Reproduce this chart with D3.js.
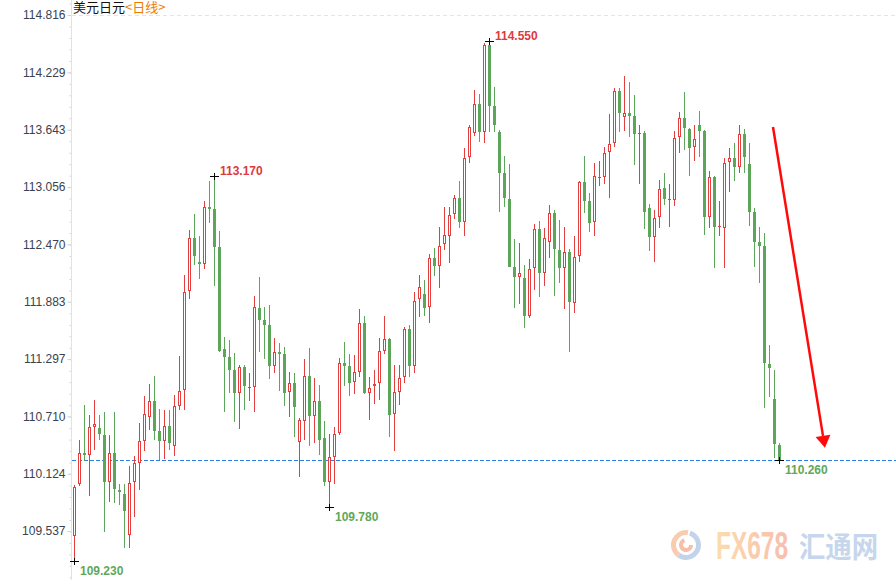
<!DOCTYPE html>
<html>
<head>
<meta charset="utf-8">
<script src="https://cdn.jsdelivr.net/npm/d3@7"></script>
<style>
  html, body { margin: 0; padding: 0; background: #fff; }
  svg { display: block; }
</style>
</head>
<body>
<svg id="chart" width="896" height="580"></svg>
<script>
// ---------- data (USD/JPY daily candles) ----------
const open = [
109.49,110.02,110.34,110.31,110.60,110.59,110.52,110.04,110.33,109.96,
109.92,109.50,110.04,110.23,110.46,110.70,110.87,110.56,110.46,110.61,
110.41,110.82,110.98,111.99,112.53,112.29,112.27,112.85,112.83,112.44,
111.40,111.32,111.18,110.95,111.21,111.00,111.01,111.82,111.70,111.64,
111.23,111.37,111.35,110.96,111.05,110.45,110.66,111.12,110.71,110.87,
110.49,110.04,110.29,110.54,111.26,111.22,111.06,111.16,111.66,110.95,
111.02,111.05,111.38,111.50,110.73,110.96,111.11,111.60,111.23,111.91,
111.96,111.83,112.33,112.25,112.47,112.55,112.78,112.94,112.70,113.36,
113.61,113.91,113.62,114.51,113.88,113.62,113.20,112.93,112.24,112.14,
112.13,111.74,112.23,112.63,112.18,112.49,112.79,112.41,112.23,112.39,
111.87,112.35,113.11,112.91,112.70,113.15,113.16,113.41,113.51,114.04,
113.77,113.81,113.78,113.60,113.61,112.84,112.54,112.75,113.05,112.92,
112.92,113.57,113.76,113.65,113.47,113.69,113.63,112.75,113.16,112.65,
112.64,113.31,113.35,113.26,113.60,113.29,112.80,112.49,112.45,111.25,
110.89,110.42];
const high = [
110.01,110.47,110.83,110.72,110.88,110.72,110.75,110.52,110.75,110.02,
110.02,110.20,110.30,110.64,110.92,111.04,111.12,110.79,110.78,110.78,
110.93,111.33,112.16,112.62,112.78,112.55,112.91,113.12,113.17,112.61,
111.52,111.49,111.36,111.24,111.24,111.15,111.94,112.14,111.83,111.85,
111.51,111.46,111.42,111.16,111.15,110.69,111.30,111.41,111.10,111.03,
110.66,110.53,110.60,111.31,111.47,111.35,111.34,111.81,111.74,111.11,
111.18,111.51,111.74,111.51,111.24,111.24,111.62,111.64,111.98,112.16,
112.11,112.37,112.43,112.65,112.85,112.85,112.97,113.12,113.46,113.69,
114.05,114.01,114.53,114.55,114.08,113.64,113.37,113.29,112.52,112.48,
112.26,112.32,112.68,112.71,112.64,112.87,112.82,112.72,112.65,112.42,
112.55,113.12,113.37,112.99,113.30,113.32,113.47,113.80,114.07,114.07,
114.19,114.13,114.00,113.69,113.63,112.88,112.82,113.13,113.20,113.09,
113.63,113.82,114.03,113.66,113.69,113.83,113.64,113.22,113.17,112.91,
113.35,113.46,113.51,113.69,113.65,113.51,112.84,112.65,112.59,111.44,
111.18,110.44];
const low = [
109.23,110.00,110.25,109.90,110.37,110.47,109.53,109.83,109.82,109.80,
109.36,109.36,109.68,109.96,110.36,110.57,110.47,110.26,110.27,110.37,
110.30,110.78,110.77,111.91,112.26,112.12,112.22,112.69,112.04,111.37,
110.75,110.95,110.65,110.58,110.78,110.87,110.75,111.37,111.30,111.09,
111.15,110.97,110.82,110.70,110.50,110.09,110.47,110.41,110.44,110.31,
110.00,109.78,110.02,110.52,111.02,110.92,110.94,111.11,110.94,110.67,
110.84,110.88,111.35,110.50,110.36,110.83,111.05,111.11,111.15,111.73,
111.74,111.67,112.15,112.02,112.41,112.28,112.73,112.64,112.55,113.30,
113.58,113.52,113.51,113.62,113.62,112.80,112.85,112.24,111.82,111.86,
111.61,111.72,112.00,111.93,112.04,112.33,111.94,112.07,111.81,111.37,
111.77,112.29,112.79,112.60,112.55,113.07,113.09,112.94,113.47,113.62,
113.63,113.57,113.28,113.09,112.63,112.40,112.29,112.64,112.87,112.65,
112.86,113.40,113.43,113.17,113.32,113.36,112.57,112.64,112.23,112.55,
112.23,113.01,113.12,113.20,113.20,112.66,112.24,112.07,110.80,110.91,
110.28,110.26];
const close = [
109.99,110.34,110.31,110.60,110.63,110.53,110.04,110.33,109.97,109.94,
109.74,110.03,110.23,110.46,110.73,110.87,110.56,110.46,110.61,110.44,
110.82,110.97,111.98,112.53,112.35,112.27,112.85,112.83,112.44,111.38,
111.32,111.18,110.95,111.21,111.02,111.01,111.83,111.70,111.64,111.23,
111.37,111.35,110.95,111.05,110.81,110.67,111.12,110.71,110.87,110.47,
110.04,110.29,110.53,111.26,111.22,111.05,111.16,111.66,110.95,111.00,
111.04,111.38,111.50,110.72,110.96,111.10,111.60,111.23,111.89,112.03,
111.82,112.33,112.25,112.45,112.57,112.77,112.94,112.70,113.35,113.67,
113.91,113.62,114.51,113.89,113.69,113.20,112.94,112.24,112.14,112.18,
111.74,112.22,112.63,112.18,112.53,112.79,112.42,112.23,112.39,111.88,
112.34,113.11,112.91,112.69,113.17,113.16,113.40,113.50,114.04,113.81,
113.81,113.78,113.60,113.61,112.80,112.54,112.74,113.04,112.93,112.93,
113.56,113.76,113.66,113.46,113.55,113.63,112.75,113.16,112.65,112.66,
113.30,113.35,113.26,113.60,113.36,112.80,112.49,112.45,111.26,111.20,
110.43,110.26];
const days = open.map((_, i) => i);

const tickLabels = ["114.816","114.229","113.643","113.056","112.470","111.883","111.297","110.710","110.124","109.537"];
const highMarks = [{ i: 28, label: "113.170" }, { i: 83, label: "114.550" }];
const lowMarks  = [{ i: 0, label: "109.230" }, { i: 51, label: "109.780" }, { i: 141, label: "110.260" }];
const lastPrice = 110.26;
const titleMain = "美元日元";
const titleSub = "<日线>";

// ---------- layout ----------
const W = 896, H = 580;
const RED = "#e2403f", GREEN = "#5ca65a";
const svg = d3.select("#chart");

const tickValues = tickLabels.map(Number);
const y = d3.scaleLinear().domain([109.537, 114.816]).range([531, 15]);
const x = d3.scaleLinear().domain([0, days.length - 1]).range([74, 779]);

// top faint dashed line
svg.append("line")
  .attr("x1", 72).attr("x2", W).attr("y1", 15.5).attr("y2", 15.5)
  .attr("stroke", "#e4e4e4").attr("stroke-dasharray", "4,3");

// ---------- y axis ----------
const step = tickValues[0] - tickValues[1];
const minor = [];
for (let v = tickValues[0] + step; v > y.domain()[0] - 1.2 * step; v -= step / 5) {
  const yy = y(v);
  if (yy >= 0 && yy <= H) minor.push(v);
}
const gMinor = svg.append("g").attr("transform", "translate(71.5,0)")
  .call(d3.axisLeft(y).tickValues(minor).tickSize(2).tickFormat(""));
gMinor.select(".domain").remove();
gMinor.selectAll("line").attr("stroke", "#c9d4e2");

const gAxis = svg.append("g").attr("transform", "translate(71.5,0)")
  .call(d3.axisLeft(y).tickValues(tickValues).tickSize(4).tickPadding(2)
    .tickFormat((d, i) => tickLabels[i]));
gAxis.select(".domain").remove();
gAxis.selectAll("line").attr("stroke", "#c9d4e2");
gAxis.selectAll("text")
  .attr("fill", "#3a4150")
  .style("font-family", "'Liberation Sans', Arial, sans-serif")
  .style("font-size", "12px");
svg.append("line").attr("x1", 71.5).attr("x2", 71.5).attr("y1", 0).attr("y2", H)
  .attr("stroke", "#dbe3ed");

// ---------- last price dashed line ----------
svg.append("line")
  .attr("x1", 72).attr("x2", W)
  .attr("y1", Math.round(y(lastPrice)) + 0.5).attr("y2", Math.round(y(lastPrice)) + 0.5)
  .attr("stroke", "#2f7fe0").attr("stroke-width", 1).attr("stroke-dasharray", "4,2");

// ---------- candles ----------
const candles = svg.append("g");
days.forEach(i => {
  const up = close[i] >= open[i];
  const col = up ? RED : GREEN;
  const cx = Math.round(x(i)) + 0.5;
  const yh = Math.round(y(high[i])), yl = Math.round(y(low[i]));
  const yt = Math.round(y(Math.max(open[i], close[i])));
  const yb = Math.round(y(Math.min(open[i], close[i])));
  candles.append("line")
    .attr("x1", cx).attr("x2", cx).attr("y1", yh).attr("y2", yl)
    .attr("stroke", col).attr("stroke-width", 1);
  if (up) {
    const hgt = Math.max(0, yb - yt - 1);
    candles.append("rect")
      .attr("x", cx - 1).attr("y", yt + 0.5)
      .attr("width", 2).attr("height", Math.max(hgt, 0.01))
      .attr("fill", "#fff").attr("stroke", col).attr("stroke-width", 1);
  } else {
    candles.append("rect")
      .attr("x", cx - 1.5).attr("y", yt)
      .attr("width", 3).attr("height", Math.max(1, yb - yt))
      .attr("fill", col);
  }
});

// ---------- extreme markers ----------
const labFont = "bold 12px 'Liberation Sans', Arial, sans-serif";
function cross(px, py) {
  svg.append("line").attr("x1", px - 4).attr("x2", px + 5).attr("y1", py + 0.5).attr("y2", py + 0.5)
    .attr("stroke", "#000").attr("stroke-width", 1);
  svg.append("line").attr("x1", px + 0.5).attr("x2", px + 0.5).attr("y1", py - 3).attr("y2", py + 4)
    .attr("stroke", "#000").attr("stroke-width", 1);
}
highMarks.forEach(m => {
  const px = Math.round(x(m.i)), py = Math.round(y(high[m.i]));
  cross(px, py);
  svg.append("text").attr("x", px + 6).attr("y", py - 1)
    .style("font", labFont).attr("fill", "#e0393e").text(m.label);
});
lowMarks.forEach(m => {
  const px = Math.round(x(m.i)), py = Math.round(y(low[m.i]));
  cross(px, py);
  svg.append("text").attr("x", px + 6).attr("y", py + 14)
    .style("font", labFont).attr("fill", "#5fa85a").text(m.label);
});

// ---------- title ----------
const title = svg.append("text").attr("x", 73).attr("y", 12)
  .style("font-family", "'Noto Sans CJK SC', sans-serif").style("font-size", "13px");
title.append("tspan").attr("fill", "#111").text(titleMain);
title.append("tspan").attr("fill", "#f07c00").text(titleSub);

// ---------- red trend arrow ----------
const ax1 = x(139.8), ay1 = y(113.67), ax2 = x(149.8), ay2 = y(110.51);
svg.append("line").attr("x1", ax1).attr("y1", ay1).attr("x2", ax2).attr("y2", ay2)
  .attr("stroke", "#ff0a0a").attr("stroke-width", 2.5);
const ang = Math.atan2(ay2 - ay1, ax2 - ax1);
const tipLen = 12, halfW = 7.5;
const tx = ax2 + Math.cos(ang) * tipLen, ty = ay2 + Math.sin(ang) * tipLen;
const px = -Math.sin(ang), py = Math.cos(ang);
svg.append("path")
  .attr("d", `M${tx},${ty}L${ax2 + px * halfW},${ay2 + py * halfW}L${ax2 - px * halfW},${ay2 - py * halfW}Z`)
  .attr("fill", "#ff0a0a");

// ---------- watermark ----------
const wm = svg.append("g").attr("opacity", 0.85);
const defs = svg.append("defs");
const gr = defs.append("linearGradient").attr("id", "fxg").attr("x1", "0").attr("x2", "1");
gr.append("stop").attr("offset", "0").attr("stop-color", "#fbd7a0");
gr.append("stop").attr("offset", "1").attr("stop-color", "#f8b2a0");
const lc = [686, 545];
wm.append("path").attr("d", d3.arc()({ innerRadius: 10, outerRadius: 15, startAngle: Math.PI * 0.1, endAngle: Math.PI * 1.2 }))
  .attr("transform", `translate(${lc[0]},${lc[1]})`).attr("fill", "#b9cce6");
wm.append("path").attr("d", d3.arc()({ innerRadius: 10, outerRadius: 15, startAngle: Math.PI * 1.2, endAngle: Math.PI * 2.05 }))
  .attr("transform", `translate(${lc[0]},${lc[1]})`).attr("fill", "#f7c4a4");
wm.append("path").attr("d", d3.arc()({ innerRadius: 3, outerRadius: 7, startAngle: Math.PI * 0.5, endAngle: Math.PI * 1.9 }))
  .attr("transform", `translate(${lc[0]},${lc[1]})`).attr("fill", "#f6b49a");
wm.append("text").attr("x", 716).attr("y", 559)
  .attr("textLength", 72).attr("lengthAdjust", "spacingAndGlyphs")
  .style("font", "bold 39px 'Liberation Sans', Arial, sans-serif")
  .attr("fill", "url(#fxg)").text("FX678");
wm.append("text").attr("x", 799).attr("y", 558)
  .attr("textLength", 79).attr("lengthAdjust", "spacingAndGlyphs")
  .style("font", "bold 29px 'Noto Sans CJK SC', sans-serif")
  .attr("fill", "#bcd0ea").text("汇通网");
</script>
</body>
</html>
